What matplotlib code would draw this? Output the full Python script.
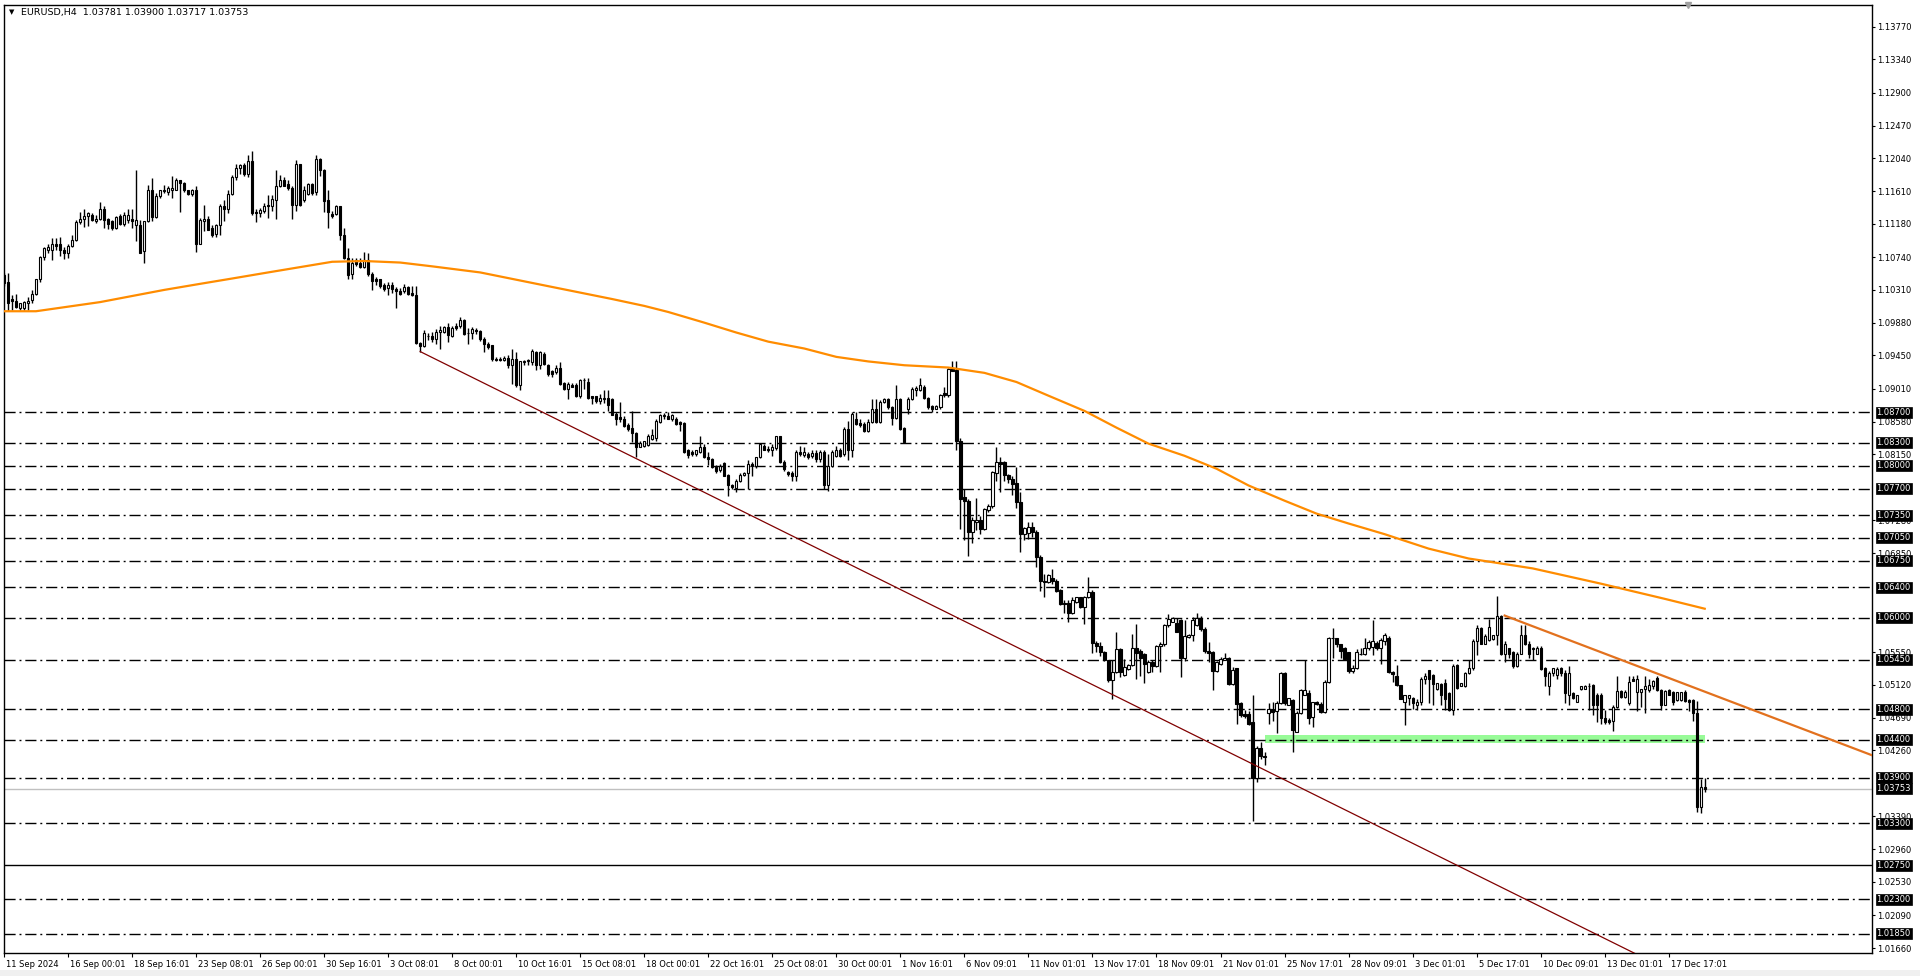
import numpy as np
import matplotlib.pyplot as plt
import matplotlib.transforms as mtransforms
from matplotlib.patches import Rectangle

plt.rcParams['font.family'] = ['DejaVu Sans']
plt.rcParams['lines.scale_dashes'] = False

# ---- EURUSD H4 candles (bar index 0 = 11 Sep 2024 08:00) ----
opens = [
    1.1051, 1.1042, 1.1019, 1.1016, 1.1007, 1.1007, 1.1014, 1.1018, 1.1025, 1.1045,
    1.1074, 1.1084, 1.1083, 1.1092, 1.1092, 1.1084, 1.1079, 1.1089, 1.1097, 1.1120,
    1.1124, 1.1128, 1.1130, 1.1122, 1.1124, 1.1137, 1.1124, 1.1121, 1.1113, 1.1128,
    1.1118, 1.1123, 1.1124, 1.1116, 1.1116, 1.1082, 1.1122, 1.1163, 1.1127, 1.1155,
    1.1161, 1.1160, 1.1163, 1.1163, 1.1175, 1.1172, 1.1162, 1.1157, 1.1162, 1.1092,
    1.1122, 1.1124, 1.1113, 1.1104, 1.1116, 1.1141, 1.1138, 1.1157, 1.1179, 1.1191,
    1.1195, 1.1183, 1.1201, 1.1134, 1.1132, 1.1135, 1.1143, 1.1141, 1.1149, 1.1167,
    1.1176, 1.1170, 1.1165, 1.1142, 1.1197, 1.1149, 1.1157, 1.1170, 1.1160, 1.1203,
    1.1189, 1.1149, 1.1131, 1.1131, 1.1141, 1.1103, 1.1073, 1.1052, 1.1070, 1.1066,
    1.1061, 1.1070, 1.1052, 1.1045, 1.1045, 1.1038, 1.1033, 1.1038, 1.1032, 1.1030,
    1.1030, 1.1035, 1.1027, 1.1024, 1.0961, 1.0957, 1.0971, 1.0971, 1.0966, 1.0976,
    1.0976, 1.0982, 1.0970, 1.0984, 1.0983, 1.0992, 1.0975, 1.0974, 1.0978, 1.0977,
    1.0967, 1.0960, 1.0958, 1.0940, 1.0940, 1.0939, 1.0941, 1.0932, 1.0940, 1.0906,
    1.0936, 1.0937, 1.0936, 1.0950, 1.0932, 1.0947, 1.0932, 1.0924, 1.0923, 1.0929,
    1.0909, 1.0901, 1.0906, 1.0906, 1.0891, 1.0912, 1.0910, 1.0891, 1.0891, 1.0885,
    1.0888, 1.0889, 1.0888, 1.0868, 1.0864, 1.0861, 1.0854, 1.0849, 1.0843, 1.0825,
    1.0826, 1.0827, 1.0835, 1.0836, 1.0858, 1.0865, 1.0865, 1.0861, 1.0861, 1.0857,
    1.0856, 1.0820, 1.0818, 1.0815, 1.0818, 1.0824, 1.0812, 1.0809, 1.0798, 1.0794,
    1.0803, 1.0788, 1.0775, 1.0771, 1.0780, 1.0788, 1.0791, 1.0802, 1.0800, 1.0811,
    1.0826, 1.0822, 1.0821, 1.0823, 1.0839, 1.0805, 1.0792, 1.0791, 1.0786, 1.0818,
    1.0814, 1.0815, 1.0813, 1.0817, 1.0809, 1.0818, 1.0774, 1.0799, 1.0813, 1.0821,
    1.0815, 1.0848, 1.0820, 1.0861, 1.0856, 1.0855, 1.0845, 1.0857, 1.0875, 1.0857,
    1.0884, 1.0888, 1.0877, 1.0863, 1.0888, 1.0849, 1.0875, 1.0887, 1.0899, 1.0899,
    1.0904, 1.0889, 1.0878, 1.0875, 1.0877, 1.0895, 1.0893, 1.0929, 1.0926, 1.0833,
    1.0759, 1.0754, 1.0713, 1.0726, 1.0728, 1.0717, 1.0742, 1.0747, 1.0790, 1.0805,
    1.0805, 1.0788, 1.0783, 1.0777, 1.0752, 1.0710, 1.0712, 1.0719, 1.0713, 1.0680,
    1.0649, 1.0647, 1.0653, 1.0649, 1.0636, 1.0620, 1.0620, 1.0607, 1.0621, 1.0628,
    1.0614, 1.0628, 1.0634, 1.0567, 1.0563, 1.0555, 1.0544, 1.0518, 1.0529, 1.0559,
    1.0525, 1.0533, 1.0538, 1.0560, 1.0557, 1.0552, 1.0529, 1.0542, 1.0537, 1.0563,
    1.0566, 1.0590, 1.0595, 1.0593, 1.0597, 1.0547, 1.0575, 1.0577, 1.0590, 1.0600,
    1.0586, 1.0557, 1.0555, 1.0530, 1.0540, 1.0545, 1.0547, 1.0513, 1.0534, 1.0488,
    1.0473, 1.0473, 1.0463, 1.0390, 1.0429, 1.0418, 1.0475, 1.0480, 1.0477, 1.0488,
    1.0527, 1.0486, 1.0492, 1.0450, 1.0475, 1.0499, 1.0501, 1.0470, 1.0489, 1.0487,
    1.0476, 1.0516, 1.0573, 1.0573, 1.0565, 1.0560, 1.0555, 1.0530, 1.0534, 1.0552,
    1.0553, 1.0560, 1.0562, 1.0567, 1.0560, 1.0570, 1.0574, 1.0529, 1.0523, 1.0512,
    1.0490, 1.0495, 1.0495, 1.0486, 1.0490, 1.0520, 1.0531, 1.0525, 1.0506, 1.0513,
    1.0514, 1.0501, 1.0479, 1.0538, 1.0510, 1.0511, 1.0527, 1.0534, 1.0569, 1.0587,
    1.0566, 1.0571, 1.0572, 1.0577, 1.0603, 1.0553, 1.0560, 1.0555, 1.0537, 1.0553,
    1.0577, 1.0566, 1.0560, 1.0553, 1.0561, 1.0534, 1.0510, 1.0527, 1.0525, 1.0534,
    1.0528, 1.0499, 1.0501, 1.0490, 1.0507, 1.0507, 1.0510, 1.0512, 1.0499, 1.0499,
    1.0469, 1.0466, 1.0464, 1.0483, 1.0504, 1.0496, 1.0488, 1.0520, 1.0503, 1.0503,
    1.0506, 1.0505, 1.0510, 1.0521, 1.0505, 1.0486, 1.0505, 1.0502, 1.0492, 1.0492,
    1.0503, 1.0492, 1.0492, 1.0475, 1.0352, 1.03781,
]
highs = [
    1.1053, 1.1053, 1.1024, 1.1026, 1.1014, 1.1016, 1.1022, 1.1031, 1.1046, 1.1075,
    1.1087, 1.1092, 1.1099, 1.1099, 1.1100, 1.1088, 1.1092, 1.1103, 1.1123, 1.1134,
    1.1137, 1.1134, 1.1132, 1.1130, 1.1146, 1.1141, 1.1126, 1.1123, 1.1128, 1.1131,
    1.1133, 1.1138, 1.1138, 1.1189, 1.1123, 1.1122, 1.1169, 1.1178, 1.1158, 1.1163,
    1.1169, 1.1167, 1.1181, 1.1178, 1.1176, 1.1173, 1.1163, 1.1164, 1.1167, 1.1126,
    1.1143, 1.1128, 1.1116, 1.1118, 1.1144, 1.1149, 1.1162, 1.1182, 1.1197, 1.1197,
    1.1198, 1.1208, 1.1214, 1.1138, 1.1139, 1.1145, 1.1156, 1.1156, 1.1189, 1.1182,
    1.1180, 1.1175, 1.1167, 1.1202, 1.1197, 1.1167, 1.1172, 1.1172, 1.1208, 1.1204,
    1.1190, 1.1162, 1.1135, 1.1143, 1.1141, 1.1113, 1.1086, 1.1073, 1.1073, 1.1073,
    1.1081, 1.1079, 1.1054, 1.1048, 1.1046, 1.1040, 1.1041, 1.1042, 1.1035, 1.1033,
    1.1039, 1.1036, 1.1036, 1.1036, 1.0962, 1.0978, 1.0974, 1.0976, 1.0979, 1.0983,
    1.0984, 1.0987, 1.0983, 1.0987, 1.0996, 1.0993, 1.0981, 1.0982, 1.0981, 1.0978,
    1.0969, 1.0963, 1.0959, 1.0943, 1.0943, 1.0944, 1.0945, 1.0954, 1.0949, 1.0938,
    1.0939, 1.0940, 1.0953, 1.0951, 1.0951, 1.0949, 1.0934, 1.0926, 1.0932, 1.0936,
    1.0910, 1.0910, 1.0909, 1.0909, 1.0914, 1.0915, 1.0915, 1.0892, 1.0892, 1.0894,
    1.0899, 1.0900, 1.0889, 1.0870, 1.0884, 1.0865, 1.0856, 1.0872, 1.0844, 1.0832,
    1.0833, 1.0842, 1.0848, 1.0861, 1.0868, 1.0869, 1.0870, 1.0868, 1.0864, 1.0859,
    1.0857, 1.0822, 1.0820, 1.0821, 1.0839, 1.0829, 1.0818, 1.0810, 1.0801, 1.0802,
    1.0805, 1.0789, 1.0776, 1.0783, 1.0790, 1.0792, 1.0807, 1.0805, 1.0812, 1.0829,
    1.0829, 1.0826, 1.0829, 1.0839, 1.0839, 1.0807, 1.0793, 1.0793, 1.0820, 1.0826,
    1.0824, 1.0818, 1.0820, 1.0820, 1.0820, 1.0820, 1.0815, 1.0820, 1.0826, 1.0823,
    1.0851, 1.0859, 1.0870, 1.0870, 1.0861, 1.0857, 1.0861, 1.0888, 1.0888, 1.0886,
    1.0889, 1.0889, 1.0878, 1.0906, 1.0889, 1.0851, 1.0890, 1.0903, 1.0905, 1.0915,
    1.0906, 1.0890, 1.0880, 1.0880, 1.0894, 1.0903, 1.0929, 1.0938, 1.0937, 1.0837,
    1.0769, 1.0756, 1.0732, 1.0757, 1.0734, 1.0744, 1.0750, 1.0793, 1.0824, 1.0811,
    1.0806, 1.0789, 1.0787, 1.0798, 1.0765, 1.0719, 1.0726, 1.0726, 1.0715, 1.0682,
    1.0657, 1.0657, 1.0664, 1.0651, 1.0638, 1.0623, 1.0623, 1.0628, 1.0628, 1.0628,
    1.0629, 1.0654, 1.0637, 1.0570, 1.0568, 1.0557, 1.0545, 1.0544, 1.0581, 1.0560,
    1.0546, 1.0540, 1.0579, 1.0592, 1.0559, 1.0554, 1.0544, 1.0544, 1.0564, 1.0568,
    1.0592, 1.0605, 1.0601, 1.0600, 1.0599, 1.0597, 1.0579, 1.0601, 1.0607, 1.0603,
    1.0588, 1.0568, 1.0556, 1.0543, 1.0548, 1.0554, 1.0548, 1.0535, 1.0534, 1.0489,
    1.0479, 1.0477, 1.0499, 1.0431, 1.0437, 1.0424, 1.0488, 1.0490, 1.0491, 1.0529,
    1.0529, 1.0495, 1.0494, 1.0477, 1.0507, 1.0545, 1.0505, 1.0489, 1.0491, 1.0489,
    1.0518, 1.0575, 1.0587, 1.0574, 1.0566, 1.0562, 1.0555, 1.0538, 1.0559, 1.0560,
    1.0574, 1.0571, 1.0597, 1.0570, 1.0573, 1.0580, 1.0576, 1.0530, 1.0538, 1.0512,
    1.0499, 1.0499, 1.0496, 1.0494, 1.0522, 1.0527, 1.0532, 1.0526, 1.0515, 1.0514,
    1.0520, 1.0503, 1.0539, 1.0539, 1.0514, 1.0529, 1.0545, 1.0572, 1.0591, 1.0588,
    1.0579, 1.0599, 1.0578, 1.0629, 1.0604, 1.0569, 1.0560, 1.0556, 1.0555, 1.0591,
    1.0591, 1.0569, 1.0562, 1.0563, 1.0563, 1.0536, 1.0530, 1.0534, 1.0536, 1.0536,
    1.0531, 1.0537, 1.0503, 1.0499, 1.0510, 1.0512, 1.0514, 1.0513, 1.0501, 1.0501,
    1.0479, 1.0468, 1.0485, 1.0524, 1.0505, 1.0505, 1.0524, 1.0524, 1.0525, 1.0507,
    1.0523, 1.0520, 1.0518, 1.0524, 1.0507, 1.0505, 1.0507, 1.0504, 1.0503, 1.0503,
    1.0505, 1.0494, 1.0493, 1.0491, 1.0388, 1.03900,
]
lows = [
    1.1036, 1.1003, 1.1005, 1.1007, 1.1004, 1.1005, 1.1005, 1.1014, 1.1024, 1.1041,
    1.1070, 1.1080, 1.1070, 1.1084, 1.1076, 1.1072, 1.1073, 1.1087, 1.1095, 1.1118,
    1.1114, 1.1115, 1.1121, 1.1119, 1.1123, 1.1112, 1.1111, 1.1110, 1.1111, 1.1116,
    1.1115, 1.1119, 1.1113, 1.1095, 1.1079, 1.1067, 1.1120, 1.1121, 1.1125, 1.1152,
    1.1158, 1.1156, 1.1152, 1.1162, 1.1134, 1.1160, 1.1156, 1.1155, 1.1081, 1.1092,
    1.1108, 1.1110, 1.1101, 1.1101, 1.1103, 1.1121, 1.1132, 1.1156, 1.1176, 1.1184,
    1.1181, 1.1180, 1.1130, 1.1120, 1.1127, 1.1132, 1.1125, 1.1135, 1.1124, 1.1166,
    1.1167, 1.1162, 1.1124, 1.1135, 1.1141, 1.1147, 1.1156, 1.1156, 1.1156, 1.1181,
    1.1134, 1.1112, 1.1125, 1.1130, 1.1097, 1.1071, 1.1045, 1.1045, 1.1063, 1.1060,
    1.1060, 1.1049, 1.1031, 1.1038, 1.1034, 1.1030, 1.1024, 1.1027, 1.1007, 1.1024,
    1.1027, 1.1024, 1.1023, 1.0960, 1.0950, 1.0956, 1.0965, 1.0963, 1.0960, 1.0953,
    1.0974, 1.0963, 1.0969, 1.0978, 1.0981, 1.0972, 1.0960, 1.0966, 1.0973, 1.0964,
    1.0950, 1.0953, 1.0938, 1.0937, 1.0938, 1.0937, 1.0929, 1.0907, 1.0904, 1.0899,
    1.0932, 1.0932, 1.0932, 1.0926, 1.0927, 1.0932, 1.0918, 1.0917, 1.0921, 1.0906,
    1.0900, 1.0888, 1.0903, 1.0890, 1.0889, 1.0901, 1.0888, 1.0881, 1.0882, 1.0881,
    1.0883, 1.0872, 1.0866, 1.0853, 1.0858, 1.0851, 1.0846, 1.0831, 1.0811, 1.0824,
    1.0824, 1.0826, 1.0834, 1.0833, 1.0856, 1.0862, 1.0861, 1.0859, 1.0853, 1.0846,
    1.0817, 1.0810, 1.0813, 1.0813, 1.0817, 1.0810, 1.0801, 1.0797, 1.0791, 1.0792,
    1.0786, 1.0760, 1.0769, 1.0766, 1.0779, 1.0787, 1.0770, 1.0787, 1.0797, 1.0810,
    1.0820, 1.0818, 1.0813, 1.0820, 1.0804, 1.0793, 1.0787, 1.0780, 1.0780, 1.0813,
    1.0812, 1.0809, 1.0810, 1.0805, 1.0805, 1.0770, 1.0767, 1.0798, 1.0812, 1.0811,
    1.0813, 1.0807, 1.0811, 1.0853, 1.0851, 1.0844, 1.0844, 1.0856, 1.0856, 1.0856,
    1.0882, 1.0875, 1.0853, 1.0861, 1.0847, 1.0830, 1.0868, 1.0886, 1.0892, 1.0898,
    1.0888, 1.0875, 1.0870, 1.0875, 1.0875, 1.0890, 1.0890, 1.0924, 1.0820, 1.0717,
    1.0702, 1.0681, 1.0699, 1.0715, 1.0710, 1.0715, 1.0739, 1.0745, 1.0780, 1.0766,
    1.0780, 1.0777, 1.0761, 1.0745, 1.0686, 1.0702, 1.0704, 1.0706, 1.0667, 1.0635,
    1.0628, 1.0646, 1.0645, 1.0634, 1.0617, 1.0606, 1.0594, 1.0605, 1.0620, 1.0613,
    1.0592, 1.0626, 1.0554, 1.0555, 1.0550, 1.0543, 1.0516, 1.0494, 1.0527, 1.0522,
    1.0524, 1.0532, 1.0537, 1.0520, 1.0524, 1.0515, 1.0527, 1.0529, 1.0535, 1.0529,
    1.0563, 1.0588, 1.0594, 1.0582, 1.0522, 1.0543, 1.0574, 1.0569, 1.0589, 1.0583,
    1.0554, 1.0542, 1.0505, 1.0529, 1.0538, 1.0544, 1.0512, 1.0512, 1.0461, 1.0470,
    1.0469, 1.0459, 1.0333, 1.0384, 1.0415, 1.0407, 1.0461, 1.0465, 1.0448, 1.0487,
    1.0485, 1.0486, 1.0424, 1.0450, 1.0474, 1.0499, 1.0461, 1.0457, 1.0485, 1.0475,
    1.0475, 1.0515, 1.0547, 1.0562, 1.0547, 1.0545, 1.0527, 1.0528, 1.0533, 1.0551,
    1.0551, 1.0558, 1.0551, 1.0558, 1.0540, 1.0564, 1.0527, 1.0516, 1.0510, 1.0493,
    1.0459, 1.0485, 1.0480, 1.0479, 1.0485, 1.0513, 1.0488, 1.0485, 1.0505, 1.0486,
    1.0479, 1.0478, 1.0472, 1.0507, 1.0510, 1.0509, 1.0526, 1.0532, 1.0551, 1.0565,
    1.0565, 1.0569, 1.0571, 1.0564, 1.0551, 1.0542, 1.0547, 1.0534, 1.0536, 1.0552,
    1.0564, 1.0547, 1.0545, 1.0552, 1.0531, 1.0510, 1.0498, 1.0523, 1.0520, 1.0523,
    1.0488, 1.0485, 1.0494, 1.0489, 1.0505, 1.0506, 1.0479, 1.0472, 1.0463, 1.0461,
    1.0460, 1.0461, 1.0451, 1.0482, 1.0495, 1.0495, 1.0486, 1.0517, 1.0477, 1.0483,
    1.0475, 1.0503, 1.0507, 1.0504, 1.0479, 1.0485, 1.0498, 1.0486, 1.0491, 1.0491,
    1.0489, 1.0477, 1.0464, 1.0345, 1.0343, 1.03717,
]
closes = [
    1.1040, 1.1014, 1.1016, 1.1009, 1.1014, 1.1015, 1.1017, 1.1025, 1.1045, 1.1074,
    1.1086, 1.1087, 1.1092, 1.1089, 1.1083, 1.1079, 1.1089, 1.1097, 1.1120, 1.1124,
    1.1128, 1.1132, 1.1123, 1.1124, 1.1137, 1.1123, 1.1118, 1.1113, 1.1127, 1.1118,
    1.1130, 1.1130, 1.1122, 1.1123, 1.1080, 1.1121, 1.1163, 1.1127, 1.1155, 1.1162,
    1.1163, 1.1165, 1.1165, 1.1175, 1.1172, 1.1162, 1.1157, 1.1162, 1.1092, 1.1123,
    1.1124, 1.1110, 1.1103, 1.1116, 1.1141, 1.1138, 1.1157, 1.1180, 1.1191, 1.1195,
    1.1183, 1.1200, 1.1132, 1.1132, 1.1136, 1.1141, 1.1141, 1.1150, 1.1167, 1.1175,
    1.1168, 1.1165, 1.1142, 1.1197, 1.1143, 1.1162, 1.1170, 1.1158, 1.1203, 1.1188,
    1.1148, 1.1134, 1.1128, 1.1141, 1.1103, 1.1073, 1.1051, 1.1067, 1.1065, 1.1061,
    1.1070, 1.1052, 1.1043, 1.1043, 1.1036, 1.1032, 1.1038, 1.1032, 1.1030, 1.1026,
    1.1035, 1.1026, 1.1024, 1.0961, 1.0957, 1.0974, 1.0970, 1.0966, 1.0976, 1.0978,
    1.0982, 1.0972, 1.0981, 1.0981, 1.0992, 1.0973, 1.0974, 1.0980, 1.0977, 1.0967,
    1.0960, 1.0956, 1.0940, 1.0939, 1.0939, 1.0941, 1.0932, 1.0940, 1.0906, 1.0937,
    1.0938, 1.0939, 1.0951, 1.0932, 1.0949, 1.0934, 1.0921, 1.0921, 1.0928, 1.0907,
    1.0901, 1.0908, 1.0904, 1.0891, 1.0913, 1.0913, 1.0889, 1.0889, 1.0885, 1.0889,
    1.0889, 1.0880, 1.0867, 1.0861, 1.0861, 1.0852, 1.0848, 1.0843, 1.0825, 1.0830,
    1.0832, 1.0839, 1.0840, 1.0859, 1.0866, 1.0867, 1.0861, 1.0866, 1.0855, 1.0855,
    1.0818, 1.0814, 1.0815, 1.0820, 1.0824, 1.0811, 1.0809, 1.0798, 1.0793, 1.0799,
    1.0787, 1.0774, 1.0772, 1.0780, 1.0788, 1.0791, 1.0802, 1.0800, 1.0811, 1.0828,
    1.0821, 1.0821, 1.0824, 1.0839, 1.0805, 1.0795, 1.0789, 1.0786, 1.0818, 1.0815,
    1.0818, 1.0811, 1.0817, 1.0809, 1.0818, 1.0774, 1.0799, 1.0818, 1.0821, 1.0813,
    1.0848, 1.0820, 1.0868, 1.0855, 1.0853, 1.0845, 1.0858, 1.0875, 1.0857, 1.0884,
    1.0887, 1.0877, 1.0863, 1.0888, 1.0848, 1.0831, 1.0888, 1.0901, 1.0902, 1.0906,
    1.0889, 1.0877, 1.0875, 1.0879, 1.0893, 1.0893, 1.0927, 1.0925, 1.0833, 1.0756,
    1.0754, 1.0713, 1.0728, 1.0728, 1.0717, 1.0743, 1.0747, 1.0792, 1.0805, 1.0802,
    1.0788, 1.0782, 1.0776, 1.0752, 1.0710, 1.0718, 1.0719, 1.0713, 1.0680, 1.0649,
    1.0647, 1.0656, 1.0648, 1.0635, 1.0618, 1.0618, 1.0607, 1.0623, 1.0628, 1.0614,
    1.0628, 1.0634, 1.0567, 1.0563, 1.0555, 1.0544, 1.0518, 1.0529, 1.0559, 1.0529,
    1.0535, 1.0538, 1.0560, 1.0554, 1.0547, 1.0540, 1.0542, 1.0537, 1.0563, 1.0566,
    1.0590, 1.0598, 1.0600, 1.0582, 1.0547, 1.0576, 1.0577, 1.0597, 1.0600, 1.0586,
    1.0557, 1.0554, 1.0530, 1.0542, 1.0546, 1.0547, 1.0513, 1.0532, 1.0487, 1.0472,
    1.0471, 1.0461, 1.0390, 1.0429, 1.0418, 1.0417, 1.0480, 1.0476, 1.0488, 1.0527,
    1.0488, 1.0495, 1.0453, 1.0475, 1.0505, 1.0505, 1.0469, 1.0489, 1.0487, 1.0476,
    1.0516, 1.0573, 1.0574, 1.0565, 1.0556, 1.0546, 1.0530, 1.0534, 1.0555, 1.0553,
    1.0560, 1.0568, 1.0569, 1.0560, 1.0571, 1.0578, 1.0529, 1.0526, 1.0512, 1.0494,
    1.0498, 1.0498, 1.0488, 1.0490, 1.0520, 1.0524, 1.0520, 1.0513, 1.0515, 1.0499,
    1.0494, 1.0479, 1.0537, 1.0508, 1.0514, 1.0527, 1.0534, 1.0569, 1.0587, 1.0566,
    1.0576, 1.0588, 1.0577, 1.0602, 1.0553, 1.0566, 1.0552, 1.0537, 1.0553, 1.0578,
    1.0566, 1.0553, 1.0559, 1.0561, 1.0533, 1.0523, 1.0528, 1.0534, 1.0533, 1.0527,
    1.0501, 1.0528, 1.0495, 1.0499, 1.0510, 1.0511, 1.0511, 1.0485, 1.0485, 1.0468,
    1.0463, 1.0463, 1.0483, 1.0504, 1.0496, 1.0503, 1.0516, 1.0517, 1.0520, 1.0506,
    1.0510, 1.0512, 1.0517, 1.0505, 1.0486, 1.0504, 1.0499, 1.0489, 1.0502, 1.0503,
    1.0491, 1.0490, 1.0475, 1.0352, 1.0378, 1.03753,
]

# moving average (orange) read at a number of bars
ma_bars = [0, 8, 24, 40, 49, 57, 66, 74, 82, 90, 99, 107, 119, 135, 152, 160, 166,
           175, 183, 191, 200, 208, 216, 225, 236, 245, 253, 261, 270, 278, 286, 295,
           303, 311, 320, 328, 336, 345, 356, 366, 382, 399, 415, 425]
ma_vals = [1.1003, 1.1003, 1.1015, 1.1031, 1.1039, 1.1046, 1.1054, 1.1061, 1.1068,
           1.1069, 1.1067, 1.1062, 1.1054, 1.1037, 1.1019, 1.1010, 1.1002, 1.0988,
           1.0975, 1.0963, 1.0954, 1.0943, 1.0937, 1.0932, 1.0929, 1.0922, 1.0910,
           1.0892, 1.0872, 1.0850, 1.0829, 1.0813, 1.0796, 1.0774, 1.0754, 1.0737,
           1.0724, 1.0710, 1.0691, 1.0678, 1.0665, 1.0645, 1.0625, 1.0612]

# trend lines: two anchor points (bar, price), drawn as rays to the right
maroon_anchor = [(104, 1.0950), (236, 1.0606)]
orange_anchor = [(375, 1.0603), (429, 1.0495)]

# horizontal levels
dashdot_levels = [1.08700, 1.08300, 1.08000, 1.07700, 1.07350, 1.07050, 1.06750,
                  1.06400, 1.06000, 1.05450, 1.04800, 1.04400, 1.03900, 1.03300,
                  1.02300, 1.01850]
solid_level = 1.02750
bid_price = 1.03753
zone_bars = (315, 425)
zone_prices = (1.0435, 1.0446)

# right scale ticks (the ones fully hidden behind level boxes are left out)
ytick_vals = [1.13770, 1.13340, 1.12900, 1.12470, 1.12040, 1.11610, 1.11180, 1.10740,
              1.10310, 1.09880, 1.09450, 1.09010, 1.08580, 1.08150, 1.07280,
              1.06850, 1.05550, 1.05120, 1.04690, 1.04260,
              1.03390, 1.02960, 1.02530, 1.02090, 1.01660]
xtick_labels = ["11 Sep 2024", "16 Sep 00:01", "18 Sep 16:01", "23 Sep 08:01",
                "26 Sep 00:01", "30 Sep 16:01", "3 Oct 08:01", "8 Oct 00:01",
                "10 Oct 16:01", "15 Oct 08:01", "18 Oct 00:01", "22 Oct 16:01",
                "25 Oct 08:01", "30 Oct 00:01", "1 Nov 16:01", "6 Nov 09:01",
                "11 Nov 01:01", "13 Nov 17:01", "18 Nov 09:01", "21 Nov 01:01",
                "25 Nov 17:01", "28 Nov 09:01", "3 Dec 01:01", "5 Dec 17:01",
                "10 Dec 09:01", "13 Dec 01:01", "17 Dec 17:01"]
xtick_every = 16

o = np.array(opens); h = np.array(highs); l = np.array(lows); c = np.array(closes)
assert len(o) == len(h) == len(l) == len(c)
idx = np.arange(len(c))

W, H = 1920, 976
fig = plt.figure(figsize=(W / 100, H / 100), dpi=100)
ax = fig.add_axes([4 / W, 23 / H, 1868 / W, 948 / H])
XMAX = 466.8
ax.set_xlim(0.0, XMAX)
ax.set_ylim(1.01595, 1.14055)

# zone + level lines
ax.add_patch(Rectangle((zone_bars[0], zone_prices[0]), zone_bars[1] - zone_bars[0],
                       zone_prices[1] - zone_prices[0], facecolor='#98FB98',
                       edgecolor='none', zorder=1))
for lv in dashdot_levels:
    ax.axhline(lv, color='black', lw=1.0, dashes=(8, 2.8, 1.4, 2.8), zorder=2)
ax.axhline(solid_level, color='black', lw=1.0, zorder=2)
ax.axhline(bid_price, color='#C0C0C0', lw=1.0, zorder=2)

# candles
up = c >= o
body_lo = np.minimum(o, c)
body_h = np.maximum(np.abs(c - o), 0.00003)
ax.vlines(idx, l, h, color='black', lw=1.0, zorder=3)
ax.bar(idx[up], body_h[up], bottom=body_lo[up], width=0.55, color='white',
       edgecolor='black', lw=0.8, zorder=4)
ax.bar(idx[~up], body_h[~up], bottom=body_lo[~up], width=0.55, color='black',
       edgecolor='black', lw=0.8, zorder=4)

# moving average and trend lines
ax.plot(ma_bars, ma_vals, color='#FF8C00', lw=1.6, zorder=5)
for anchors, col, lw in [(maroon_anchor, '#800000', 0.9), (orange_anchor, '#E2711E', 1.6)]:
    (x0, y0), (x1, y1) = anchors
    slope = (y1 - y0) / (x1 - x0)
    ax.plot([x0, XMAX], [y0, y0 + slope * (XMAX - x0)], color=col, lw=lw, zorder=5)

# axes styling (MT4 look)
for sp in ax.spines.values():
    sp.set_color('black')
    sp.set_linewidth(1.0)
ax.yaxis.tick_right()
ax.set_yticks(ytick_vals)
ax.set_yticklabels([f'{v:.5f}' for v in ytick_vals])
ax.tick_params(axis='y', length=2, width=0.8, pad=1.5, labelsize=6, colors='black')
ax.set_xticks(idx[::xtick_every][:len(xtick_labels)])
ax.set_xticklabels(xtick_labels)
ax.tick_params(axis='x', length=3, width=0.8, pad=2, labelsize=6, colors='black')
shift = mtransforms.ScaledTranslation(2 / 100, 0, fig.dpi_scale_trans)
for lbl in ax.get_xticklabels():
    lbl.set_ha('left')
    lbl.set_transform(lbl.get_transform() + shift)

# price boxes on the right scale
ytrans = mtransforms.blended_transform_factory(ax.transAxes, ax.transData)
for lv in dashdot_levels + [solid_level, bid_price]:
    ax.text(1.0 + 4.5 / 1868, lv, f'{lv:.5f}', transform=ytrans, ha='left', va='center',
            fontsize=6, color='white', zorder=10, clip_on=False,
            bbox=dict(boxstyle='square,pad=0.12', fc='black', ec='black', lw=0.5))

# header and chart-shift marker
fig.text(9 / W, 1 - 12 / H, '\u25bc', fontsize=5, va='center', ha='left')
fig.text(21 / W, 1 - 12 / H, 'EURUSD,H4  1.03781 1.03900 1.03717 1.03753',
         fontsize=6.8, va='center', ha='left')
ax.plot([0.9015], [1.0], marker='v', ms=5, color='#A0A0A0', transform=ax.transAxes,
        clip_on=False, zorder=10)
fig.patches.append(Rectangle((0, 0), 1, 6 / H, transform=fig.transFigure,
                             facecolor='#F0F0F0', edgecolor='none'))

fig.savefig('out.png', dpi=100)
